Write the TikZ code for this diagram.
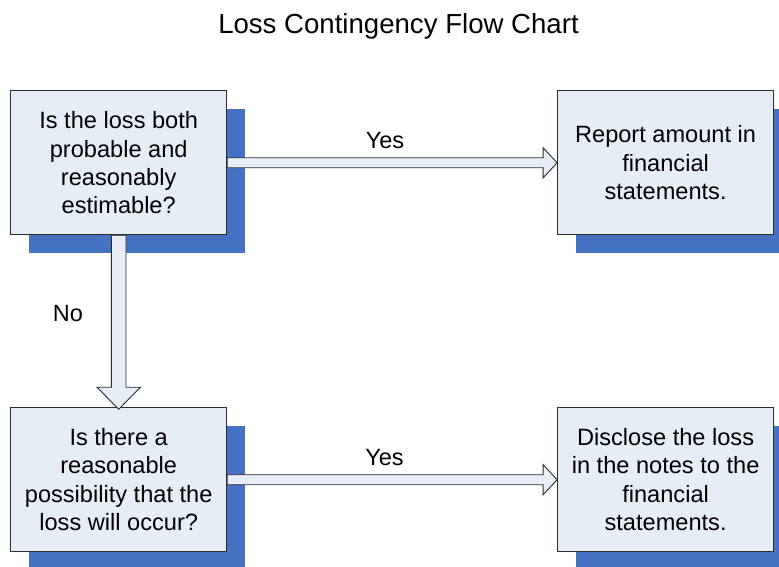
\documentclass[tikz,border=0pt]{standalone}
\usepackage{fontspec}
\setmainfont{Liberation Sans}
\usetikzlibrary{positioning,calc,shadows}
\definecolor{boxfill}{RGB}{230,237,247}
\definecolor{shadowblue}{RGB}{70,114,196}
\definecolor{edgegray}{RGB}{45,45,45}

\tikzset{
  stepbox/.style={draw=edgegray, line width=0.9pt, fill=boxfill,
    minimum width=216pt, minimum height=144pt, align=center,
    font=\fontsize{23.6}{28.3}\selectfont,
    drop shadow={shadow xshift=18pt, shadow yshift=-18pt, fill=shadowblue, opacity=1}},
  blockarrow/.style={draw=edgegray, line width=0.9pt, fill=boxfill, line join=miter},
  answer/.style={font=\fontsize{23.5}{26}\selectfont, anchor=base},
  heading/.style={font=\fontsize{27.6}{30}\selectfont, anchor=base}
}

\begin{document}
\begin{tikzpicture}[x=1pt, y=1pt]
    \useasboundingbox (0,0) rectangle (779,566);
    \clip (0,0) rectangle (779,566);
    % Title
    \node[heading] (title) at (398.5,532.7) {Loss Contingency Flow Chart};
    % Boxes
    \node[stepbox] (q1) at (118.7,403.2) {Is the loss both\\probable and\\reasonably\\estimable?};
    \node[stepbox, right=330pt of q1] (a1) {Report amount in\\financial\\statements.};
    \node[stepbox, below=172pt of q1] (q2) {Is there a\\reasonable\\possibility that the\\loss will occur?};
    \node[stepbox, right=330pt of q2] (a2) {Disclose the loss\\in the notes to the\\financial\\statements.};
    % Block arrows
    \draw[blockarrow] ($(q1.east)+(0,5)$) -- ($(a1.west)+(-14,5)$) -- ++(0,10) -- (a1.west)
        -- ++(-14,-15) -- ++(0,10) -- ($(q1.east)+(0,-5)$) -- cycle;
    \draw[blockarrow] ($(q2.east)+(0,5)$) -- ($(a2.west)+(-14,5)$) -- ++(0,10) -- (a2.west)
        -- ++(-14,-15) -- ++(0,10) -- ($(q2.east)+(0,-5)$) -- cycle;
    \draw[blockarrow] ($(q1.south)+(-7.3,0)$) -- ($(q2.north)+(-7.3,20)$) -- ++(-14.4,0) -- ($(q2.north)+(0,-2)$)
        -- ++(21.7,22) -- ++(-14.4,0) -- ($(q1.south)+(7.3,0)$) -- cycle;
    % Labels
    \node[answer] (yes1) at (385,417.7) {Yes};
    \node[answer] (yes2) at (384.5,101) {Yes};
    \node[answer] (no) at (68,244.3) {No};
\end{tikzpicture}
\end{document}
